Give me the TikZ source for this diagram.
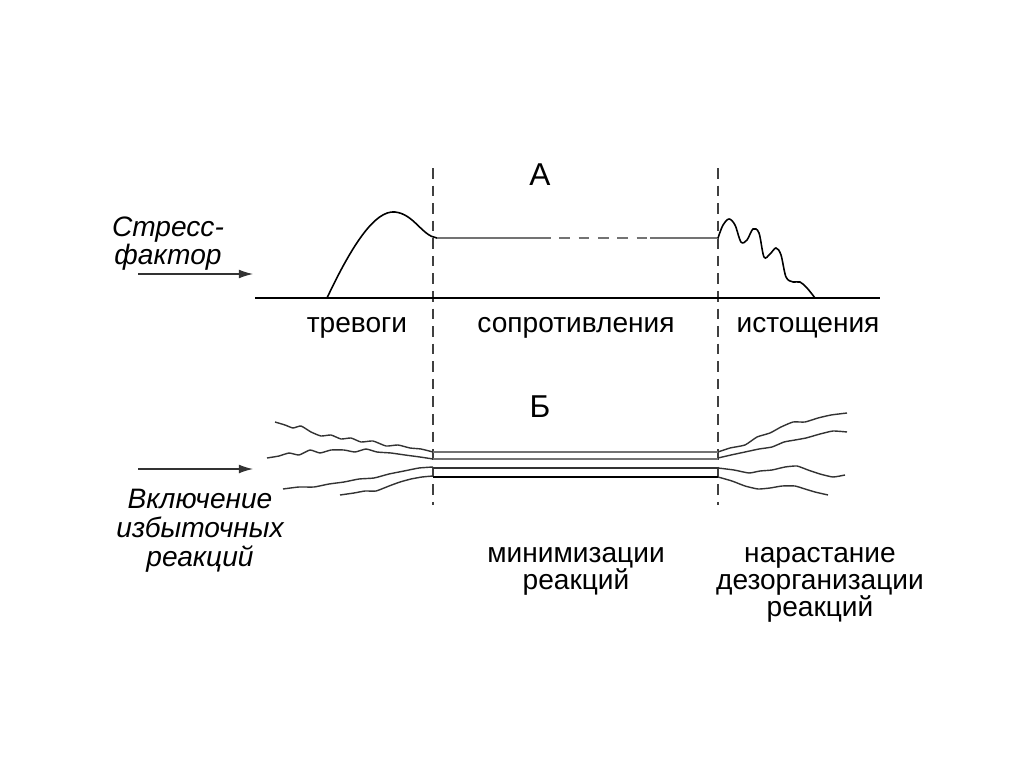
\documentclass[tikz,border=0pt]{standalone}
\usepackage{fontspec}
\setmainfont{Liberation Sans}
\usetikzlibrary{arrows.meta}
\tikzset{
    baseline/.style={
        line width=1.4pt, % основная ось
        black
    },
    phaseline/.style={
        dash pattern=on 6pt off 4pt,
        line width=0.7pt,
        black!75
    },
    curveline/.style={
        line width=0.9pt,
        black
    },
    plateau/.style={
        line width=0.9pt,
        black!55
    },
    wavyline/.style={
        line width=0.8pt,
        black!80,
        smooth,
        tension=0.3
    },
    inarrow/.style={
        line width=0.7pt,
        black!80,
        -{Latex[length=8pt,width=5pt]}
    },
    phaselabel/.style={
        font=\fontsize{16}{15.5}\selectfont,
        align=center,
        inner sep=0
    },
    sidelabel/.style={
        font=\fontsize{16}{15}\selectfont\itshape,
        align=center,
        inner sep=0
    }
}

\begin{document}
\begin{tikzpicture}[x=0.02cm, y=-0.02cm]
    \useasboundingbox (0,0) rectangle (1024,767);
    % границы фаз
    \coordinate (sepL-top) at (433,168);
    \coordinate (sepL-bot) at (433,505);
    \coordinate (sepR-top) at (718,168);
    \coordinate (sepR-bot) at (718,505);
    \draw[phaseline] (sepL-top) -- (sepL-bot);
    \draw[phaseline] (sepR-top) -- (sepR-bot);

    % А: кривая резистентности
    \node[phaselabel, font=\fontsize{18}{18}\selectfont] (labA) at (540,175) {А};
    \coordinate (axis-start) at (255,298);
    \coordinate (axis-end) at (880,298);
    \draw[baseline] (axis-start) -- (axis-end);
    \draw[curveline] (327,298) .. controls (352,245) and (375,210) .. (395,212)
        .. controls (414,214) and (422,236) .. (437,238);
    \draw[plateau] (437,238) -- (540,238);
    \draw[plateau, dash pattern=on 6pt off 5pt] (540,238) -- (650,238);
    \draw[plateau] (650,238) -- (718,238);
    \draw[curveline, smooth, tension=0.55] plot coordinates {
        (718,238) (723,225) (729,219) (735,225) (741,242) (747,240) (753,229)
        (759,233) (764,257) (770,254) (776,248) (781,255) (786,277) (793,282)
        (800,282) (807,288) (815,298)};

    \coordinate (sf-start) at (138,274);
    \coordinate (sf-end) at (253,274);
    \draw[inarrow] (sf-start) -- (sf-end);
    \node[sidelabel, font=\fontsize{16}{14.3}\selectfont\itshape] (stress) at (168,244) {Стресс-\\фактор};

    \node[phaselabel] (alarm) at (357,328) {тревоги};
    \node[phaselabel] (resist) at (576,328) {сопротивления};
    \node[phaselabel] (exhaust) at (808,328) {истощения};

    % Б: реакции
    \node[phaselabel, font=\fontsize{18}{18}\selectfont] (labB) at (540,407) {Б};
    \draw[plateau] (433,452) -- (718,452);
    \draw[plateau] (433,459) -- (718,459);
    \draw[curveline, black!80] (433,468) -- (718,468);
    \draw[curveline] (433,477) -- (718,477);

    % слева
    \draw[wavyline] plot coordinates {
        (275,422) (285,425) (293,428) (301,426) (311,432) (321,436) (331,435)
        (341,439) (351,438) (361,442) (373,441) (386,446) (398,445) (410,448)
        (421,449) (433,452)};
    \draw[wavyline] plot coordinates {
        (267,458) (279,456) (289,453) (299,455) (310,450) (320,453) (331,450)
        (344,450) (355,452) (366,449) (377,452) (391,453) (405,455) (420,457)
        (433,459)};
    \draw[wavyline] plot coordinates {
        (283,489) (299,487) (314,487) (329,484) (344,482) (359,479) (374,478)
        (389,474) (404,471) (419,468) (433,467)};
    \draw[wavyline] plot coordinates {
        (340,495) (354,493) (365,491) (376,491) (389,486) (400,482) (411,479)
        (422,477) (433,476)};

    % справа
    \draw[wavyline] plot coordinates {
        (718,452) (730,448) (745,445) (757,437) (770,433) (781,427) (793,422)
        (805,422) (818,418) (831,415) (847,413)};
    \draw[wavyline] plot coordinates {
        (718,458) (731,455) (745,452) (759,449) (772,447) (784,442) (795,440)
        (806,438) (820,434) (833,431) (847,432)};
    \draw[wavyline] plot coordinates {
        (718,468) (734,470) (749,473) (760,471) (772,470) (785,467) (797,466)
        (808,470) (820,474) (833,477) (845,475)};
    \draw[wavyline] plot coordinates {
        (718,477) (732,481) (745,486) (758,489) (770,488) (782,486) (795,486)
        (805,489) (815,492) (828,495)};

    \coordinate (ex-start) at (138,469);
    \coordinate (ex-end) at (253,469);
    \draw[inarrow] (ex-start) -- (ex-end);
    \node[sidelabel, font=\fontsize{16}{16.5}\selectfont\itshape] (excess) at (200,531)
        {Включение\\избыточных\\реакций};

    \node[phaselabel] (minim) at (576,571) {минимизации\\реакций};
    \node[phaselabel] (disorg) at (820,585) {нарастание\\дезорганизации\\реакций};
\end{tikzpicture}
\end{document}
